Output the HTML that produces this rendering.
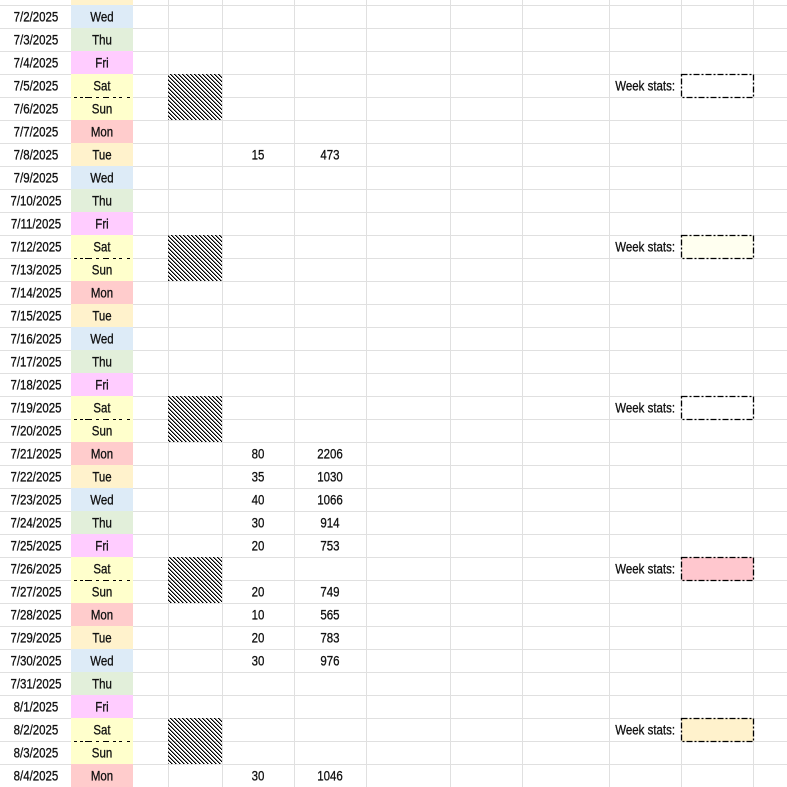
<!DOCTYPE html>
<html><head><meta charset="utf-8"><style>
html,body{margin:0;padding:0;background:#fff;width:787px;height:787px;overflow:hidden}
svg{display:block}
text{font-family:"Liberation Sans",sans-serif;font-size:14px;fill:#111;stroke:#111;stroke-width:0.3px}
</style></head><body>
<svg width="787" height="787" viewBox="0 0 787 787" xmlns="http://www.w3.org/2000/svg">
<defs>
<pattern id="h" patternUnits="userSpaceOnUse" width="4" height="4" x="168" y="0">
<rect x="0" y="0" width="1" height="1" fill="#000"/>
<rect x="1" y="1" width="1" height="1" fill="#000"/>
<rect x="2" y="2" width="1" height="1" fill="#000"/>
<rect x="3" y="3" width="1" height="1" fill="#000"/>
<rect x="1" y="0" width="1" height="1" fill="#000" fill-opacity="0.5"/>
<rect x="2" y="1" width="1" height="1" fill="#000" fill-opacity="0.5"/>
<rect x="3" y="2" width="1" height="1" fill="#000" fill-opacity="0.5"/>
<rect x="0" y="3" width="1" height="1" fill="#000" fill-opacity="0.5"/>
</pattern>
</defs>
<rect width="787" height="787" fill="#fff"/>
<path stroke="#e0e0e0" stroke-width="1" fill="none" d="M0 5.5H787M0 28.5H787M0 51.5H787M0 74.5H787M0 97.5H787M0 120.5H787M0 143.5H787M0 166.5H787M0 189.5H787M0 212.5H787M0 235.5H787M0 258.5H787M0 281.5H787M0 304.5H787M0 327.5H787M0 350.5H787M0 373.5H787M0 396.5H787M0 419.5H787M0 442.5H787M0 465.5H787M0 488.5H787M0 511.5H787M0 534.5H787M0 557.5H787M0 580.5H787M0 603.5H787M0 626.5H787M0 649.5H787M0 672.5H787M0 695.5H787M0 718.5H787M0 741.5H787M0 764.5H787M168.5 0V787M222.5 0V787M294.5 0V787M366.5 0V787M450.5 0V787M522.5 0V787M609.5 0V787M681.5 0V787M753.5 0V787"/>
<g>
<rect x="71" y="-18" width="62" height="23" fill="#fff2cc"/>
<rect x="71" y="5" width="62" height="23" fill="#ddebf7"/>
<rect x="71" y="28" width="62" height="23" fill="#e2efda"/>
<rect x="71" y="51" width="62" height="23" fill="#ffccff"/>
<rect x="71" y="74" width="62" height="46" fill="#ffffcc"/>
<rect x="71" y="120" width="62" height="23" fill="#ffcccc"/>
<rect x="71" y="143" width="62" height="23" fill="#fff2cc"/>
<rect x="71" y="166" width="62" height="23" fill="#ddebf7"/>
<rect x="71" y="189" width="62" height="23" fill="#e2efda"/>
<rect x="71" y="212" width="62" height="23" fill="#ffccff"/>
<rect x="71" y="235" width="62" height="46" fill="#ffffcc"/>
<rect x="71" y="281" width="62" height="23" fill="#ffcccc"/>
<rect x="71" y="304" width="62" height="23" fill="#fff2cc"/>
<rect x="71" y="327" width="62" height="23" fill="#ddebf7"/>
<rect x="71" y="350" width="62" height="23" fill="#e2efda"/>
<rect x="71" y="373" width="62" height="23" fill="#ffccff"/>
<rect x="71" y="396" width="62" height="46" fill="#ffffcc"/>
<rect x="71" y="442" width="62" height="23" fill="#ffcccc"/>
<rect x="71" y="465" width="62" height="23" fill="#fff2cc"/>
<rect x="71" y="488" width="62" height="23" fill="#ddebf7"/>
<rect x="71" y="511" width="62" height="23" fill="#e2efda"/>
<rect x="71" y="534" width="62" height="23" fill="#ffccff"/>
<rect x="71" y="557" width="62" height="46" fill="#ffffcc"/>
<rect x="71" y="603" width="62" height="23" fill="#ffcccc"/>
<rect x="71" y="626" width="62" height="23" fill="#fff2cc"/>
<rect x="71" y="649" width="62" height="23" fill="#ddebf7"/>
<rect x="71" y="672" width="62" height="23" fill="#e2efda"/>
<rect x="71" y="695" width="62" height="23" fill="#ffccff"/>
<rect x="71" y="718" width="62" height="46" fill="#ffffcc"/>
<rect x="71" y="764" width="62" height="23" fill="#ffcccc"/>
</g>
<g fill="#000">
<g id="d1"><rect x="74" y="97" width="3" height="1"/><rect x="80" y="97" width="3" height="1"/><rect x="85" y="97" width="7" height="1"/><rect x="96" y="97" width="3" height="1"/><rect x="103" y="97" width="6" height="1"/><rect x="113" y="97" width="3" height="1"/><rect x="119" y="97" width="3" height="1"/><rect x="127" y="97" width="3" height="1"/></g>
<use href="#d1" y="161"/>
<use href="#d1" y="322"/>
<use href="#d1" y="483"/>
<use href="#d1" y="644"/>
</g>
<rect x="168" y="74" width="54" height="46" fill="url(#h)"/>
<rect x="168" y="235" width="54" height="46" fill="url(#h)"/>
<rect x="168" y="396" width="54" height="46" fill="url(#h)"/>
<rect x="168" y="557" width="54" height="46" fill="url(#h)"/>
<rect x="168" y="718" width="54" height="46" fill="url(#h)"/>
<g stroke="#000" stroke-width="1.3" stroke-dasharray="6 2 2 2">
<rect x="681.5" y="74.5" width="72" height="23" fill="#fff"/>
<rect x="681.5" y="235.5" width="72" height="23" fill="#fffff0"/>
<rect x="681.5" y="396.5" width="72" height="23" fill="#fff"/>
<rect x="681.5" y="557.5" width="72" height="23" fill="#ffc7ce"/>
<rect x="681.5" y="718.5" width="72" height="23" fill="#fff2cc"/>
</g>
<g transform="scale(0.82 1)">
<g text-anchor="middle">
<text x="43.9" y="21.5">7/2/2025</text><text x="124.4" y="21.5">Wed</text>
<text x="43.9" y="44.5">7/3/2025</text><text x="124.4" y="44.5">Thu</text>
<text x="43.9" y="67.5">7/4/2025</text><text x="124.4" y="67.5">Fri</text>
<text x="43.9" y="90.5">7/5/2025</text><text x="124.4" y="90.5">Sat</text>
<text x="43.9" y="113.5">7/6/2025</text><text x="124.4" y="113.5">Sun</text>
<text x="43.9" y="136.5">7/7/2025</text><text x="124.4" y="136.5">Mon</text>
<text x="43.9" y="159.5">7/8/2025</text><text x="124.4" y="159.5">Tue</text><text x="314.6" y="159.5">15</text><text x="402.4" y="159.5">473</text>
<text x="43.9" y="182.5">7/9/2025</text><text x="124.4" y="182.5">Wed</text>
<text x="43.9" y="205.5">7/10/2025</text><text x="124.4" y="205.5">Thu</text>
<text x="43.9" y="228.5">7/11/2025</text><text x="124.4" y="228.5">Fri</text>
<text x="43.9" y="251.5">7/12/2025</text><text x="124.4" y="251.5">Sat</text>
<text x="43.9" y="274.5">7/13/2025</text><text x="124.4" y="274.5">Sun</text>
<text x="43.9" y="297.5">7/14/2025</text><text x="124.4" y="297.5">Mon</text>
<text x="43.9" y="320.5">7/15/2025</text><text x="124.4" y="320.5">Tue</text>
<text x="43.9" y="343.5">7/16/2025</text><text x="124.4" y="343.5">Wed</text>
<text x="43.9" y="366.5">7/17/2025</text><text x="124.4" y="366.5">Thu</text>
<text x="43.9" y="389.5">7/18/2025</text><text x="124.4" y="389.5">Fri</text>
<text x="43.9" y="412.5">7/19/2025</text><text x="124.4" y="412.5">Sat</text>
<text x="43.9" y="435.5">7/20/2025</text><text x="124.4" y="435.5">Sun</text>
<text x="43.9" y="458.5">7/21/2025</text><text x="124.4" y="458.5">Mon</text><text x="314.6" y="458.5">80</text><text x="402.4" y="458.5">2206</text>
<text x="43.9" y="481.5">7/22/2025</text><text x="124.4" y="481.5">Tue</text><text x="314.6" y="481.5">35</text><text x="402.4" y="481.5">1030</text>
<text x="43.9" y="504.5">7/23/2025</text><text x="124.4" y="504.5">Wed</text><text x="314.6" y="504.5">40</text><text x="402.4" y="504.5">1066</text>
<text x="43.9" y="527.5">7/24/2025</text><text x="124.4" y="527.5">Thu</text><text x="314.6" y="527.5">30</text><text x="402.4" y="527.5">914</text>
<text x="43.9" y="550.5">7/25/2025</text><text x="124.4" y="550.5">Fri</text><text x="314.6" y="550.5">20</text><text x="402.4" y="550.5">753</text>
<text x="43.9" y="573.5">7/26/2025</text><text x="124.4" y="573.5">Sat</text>
<text x="43.9" y="596.5">7/27/2025</text><text x="124.4" y="596.5">Sun</text><text x="314.6" y="596.5">20</text><text x="402.4" y="596.5">749</text>
<text x="43.9" y="619.5">7/28/2025</text><text x="124.4" y="619.5">Mon</text><text x="314.6" y="619.5">10</text><text x="402.4" y="619.5">565</text>
<text x="43.9" y="642.5">7/29/2025</text><text x="124.4" y="642.5">Tue</text><text x="314.6" y="642.5">20</text><text x="402.4" y="642.5">783</text>
<text x="43.9" y="665.5">7/30/2025</text><text x="124.4" y="665.5">Wed</text><text x="314.6" y="665.5">30</text><text x="402.4" y="665.5">976</text>
<text x="43.9" y="688.5">7/31/2025</text><text x="124.4" y="688.5">Thu</text>
<text x="43.9" y="711.5">8/1/2025</text><text x="124.4" y="711.5">Fri</text>
<text x="43.9" y="734.5">8/2/2025</text><text x="124.4" y="734.5">Sat</text>
<text x="43.9" y="757.5">8/3/2025</text><text x="124.4" y="757.5">Sun</text>
<text x="43.9" y="780.5">8/4/2025</text><text x="124.4" y="780.5">Mon</text><text x="314.6" y="780.5">30</text><text x="402.4" y="780.5">1046</text>
</g>
<g text-anchor="end">
<text x="823.2" y="90.5">Week stats:</text>
<text x="823.2" y="251.5">Week stats:</text>
<text x="823.2" y="412.5">Week stats:</text>
<text x="823.2" y="573.5">Week stats:</text>
<text x="823.2" y="734.5">Week stats:</text>
</g>
</g>
</svg>
</body></html>
